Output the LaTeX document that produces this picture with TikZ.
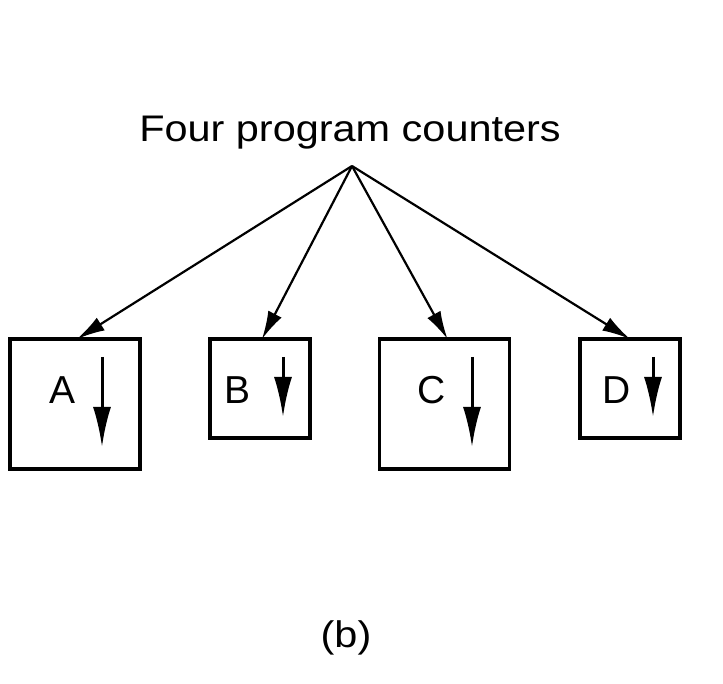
\documentclass[tikz,border=0pt]{standalone}
\usepackage{fontspec}
\setmainfont{Liberation Sans}
\newfontfamily\widesans[FakeStretch=1.12]{Liberation Sans}
\usetikzlibrary{arrows.meta}
\begin{document}
\begin{tikzpicture}[x=1pt,y=1pt,
  box/.style={draw,line width=3.6pt,inner sep=0pt,outer sep=0pt},
  bigbox/.style={box,minimum width=130pt,minimum height=130pt},
  smallbox/.style={box,minimum width=100pt,minimum height=99pt},
  lbl/.style={font=\fontsize{39}{39}\selectfont,inner sep=0pt},
  title/.style={inner sep=0pt,anchor=base,font=\widesans\fontsize{37}{37}\selectfont},
  conn/.style={line width=2.2pt,-{Latex[length=28pt,width=15pt]}},
  flow/.style={line width=3pt,-{Latex[length=40pt,width=18pt]}}]
\useasboundingbox (0,0) rectangle (723,-684);
\node[title] (ttl) at (350,-142) {Four program counters};
\coordinate (apex) at (352,-166);
\node[bigbox] (A) at (75,-404) {};
\node[smallbox] (B) at (260,-388.5) {};
\node[bigbox] (C) at (444.5,-404) {};
\node[smallbox] (D) at (630,-388.5) {};
\node[lbl] (la) at (63,-390) {A};
\node[lbl] (lb) at (238,-390) {B};
\node[lbl] (lc) at (432,-390) {C};
\node[lbl] (ld) at (617,-390) {D};
\draw[conn] (apex) -- ([xshift=2pt]A.north);
\draw[conn] (apex) -- ([xshift=2pt]B.north);
\draw[conn] (apex) -- ([xshift=3pt]C.north);
\draw[conn] (apex) -- (D.north);
\draw[flow] ([xshift=27pt,yshift=47pt]A.center) -- ([xshift=27pt,yshift=-43pt]A.center);
\draw[flow] ([xshift=23pt,yshift=31.5pt]B.center) -- ([xshift=23pt,yshift=-28.5pt]B.center);
\draw[flow] ([xshift=27.5pt,yshift=47pt]C.center) -- ([xshift=27.5pt,yshift=-43pt]C.center);
\draw[flow] ([xshift=23pt,yshift=31.5pt]D.center) -- ([xshift=23pt,yshift=-28.5pt]D.center);
\node[title] (cap) at (346,-647) {(b)};
\end{tikzpicture}
\end{document}
